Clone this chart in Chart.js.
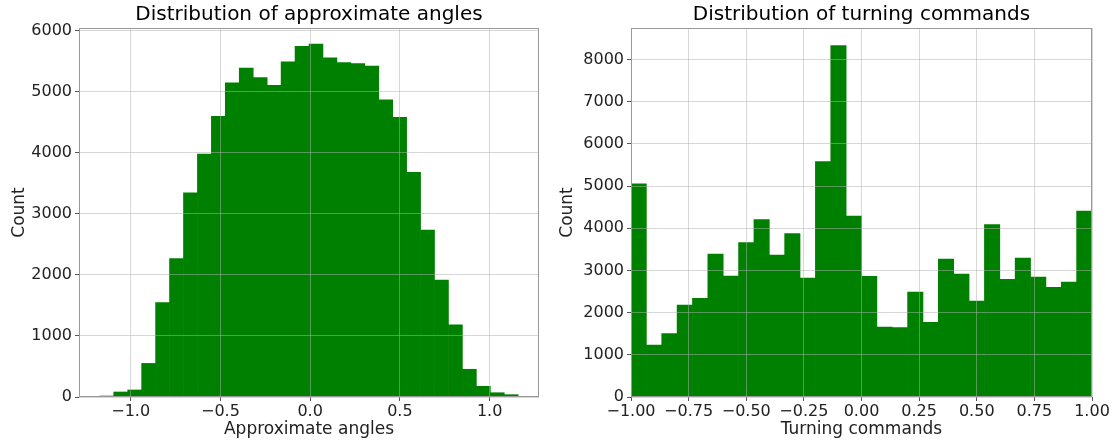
<!DOCTYPE html>
<html>
<head>
<meta charset="utf-8">
<script src="https://cdn.jsdelivr.net/npm/chart.js@4.4.0/dist/chart.umd.min.js"></script>
<style>
  html, body { margin: 0; padding: 0; background: #fff; }
  #wrap { position: relative; width: 1116px; height: 441px; }
  #angles { position: absolute; left: 0; top: 0; }
  #turning { position: absolute; left: 548px; top: 0; }
</style>
</head>
<body>
<div id="wrap">
  <canvas id="angles" width="548" height="441"></canvas>
  <canvas id="turning" width="568" height="441"></canvas>
</div>
<script>
// --- Histogram data ---
const angleBinStart = -1.172;
const angleBinWidth = 0.0777;
const angleCounts = [16, 82, 115, 550, 1546, 2267, 3344, 3978, 4595, 5142,
                     5383, 5230, 5103, 5487, 5738, 5775, 5552, 5475, 5459, 5415,
                     4863, 4579, 3677, 2732, 1913, 1180, 454, 175, 70, 38];
const angleTicksX = [-1.0, -0.5, 0.0, 0.5, 1.0];
const angleTicksY = [0, 1000, 2000, 3000, 4000, 5000, 6000];

const turnBinStart = -1.0;
const turnBinWidth = 2 / 30;
const turnCounts = [5055, 1233, 1502, 2182, 2340, 3391, 2870, 3660, 4205, 3368,
                    3874, 2822, 5583, 8331, 4291, 2862, 1660, 1644, 2490, 1771,
                    3273, 2917, 2277, 4087, 2790, 3296, 2846, 2601, 2727, 4411];
const turnTicksX = [-1.0, -0.75, -0.5, -0.25, 0.0, 0.25, 0.5, 0.75, 1.0];
const turnTicksY = [0, 1000, 2000, 3000, 4000, 5000, 6000, 7000, 8000];

const FONT = 'DejaVu Sans';
const TEXT = '#222';
const GRID = 'rgba(176, 176, 176, 0.5)';

// matplotlib-style minus sign
const fmt = (v, digits) => v.toFixed(digits).replace('-', '\u2212');

// box around the plot area (all four spines)
const frame = {
    id: 'frame',
    afterDraw(chart) {
        const { ctx, chartArea: a } = chart;
        ctx.save();
        ctx.strokeStyle = '#999';
        ctx.lineWidth = 1;
        ctx.strokeRect(Math.round(a.left) + 0.5, Math.round(a.top) + 0.5,
                       Math.round(a.width) - 1, Math.round(a.height) - 1);
        ctx.restore();
    }
};

function makeHist(id, cfg) {
    const points = cfg.counts.map((c, i) => ({
        x: cfg.binStart + (i + 0.5) * cfg.binWidth,
        y: c
    }));

    return new Chart(document.getElementById(id), {
        type: 'bar',
        data: {
            datasets: [{
                data: points,
                backgroundColor: '#008000',
                borderWidth: 0,
                barPercentage: 1.0,
                categoryPercentage: 1.0
            }]
        },
        plugins: [frame],
        options: {
            responsive: false,
            animation: false,
            layout: { padding: { left: 0, right: cfg.padRight, top: 0, bottom: 0 } },
            plugins: {
                legend: { display: false },
                tooltip: { enabled: false },
                title: {
                    display: true,
                    fullSize: false, // centre over the plot area, like matplotlib
                    text: cfg.title,
                    color: '#000',
                    font: { family: FONT, size: 20, weight: 'normal' },
                    padding: { top: 3, bottom: 1 }
                }
            },
            scales: {
                x: {
                    type: 'linear',
                    min: cfg.xMin,
                    max: cfg.xMax,
                    offset: false,
                    grid: { offset: false, color: GRID, z: 1, tickLength: 4, tickColor: '#555' },
                    border: { display: false },
                    afterBuildTicks: s => { s.ticks = cfg.xTicks.map(v => ({ value: v })); },
                    ticks: {
                        autoSkip: false,
                        maxRotation: 0,
                        padding: 1,
                        color: TEXT,
                        font: { family: FONT, size: 16 },
                        callback: v => fmt(v, cfg.xDigits)
                    },
                    title: {
                        display: true,
                        text: cfg.xLabel,
                        color: TEXT,
                        font: { family: FONT, size: 17 },
                        padding: { top: 0, bottom: 1 }
                    },
                    afterFit: s => { s.height = 44; }
                },
                y: {
                    min: 0,
                    max: cfg.yMax,
                    grid: { color: GRID, z: 1, tickLength: 4, tickColor: '#555' },
                    border: { display: false },
                    afterBuildTicks: s => { s.ticks = cfg.yTicks.map(v => ({ value: v })); },
                    ticks: {
                        padding: 3,
                        color: TEXT,
                        font: { family: FONT, size: 16 },
                        callback: v => String(v)
                    },
                    title: {
                        display: true,
                        text: 'Count',
                        color: TEXT,
                        font: { family: FONT, size: 17 },
                        padding: { top: 9, bottom: 0 }
                    },
                    afterFit: s => { s.width = cfg.yWidth; }
                }
            }
        }
    });
}

document.addEventListener('DOMContentLoaded', () => {
    makeHist('angles', {
        title: 'Distribution of approximate angles',
        xLabel: 'Approximate angles',
        binStart: angleBinStart,
        binWidth: angleBinWidth,
        counts: angleCounts,
        xTicks: angleTicksX,
        yTicks: angleTicksY,
        xMin: -1.288,
        xMax: 1.275,
        yMax: 6040,
        xDigits: 1,
        yWidth: 79,
        padRight: 9
    });

    makeHist('turning', {
        title: 'Distribution of turning commands',
        xLabel: 'Turning commands',
        binStart: turnBinStart,
        binWidth: turnBinWidth,
        counts: turnCounts,
        xTicks: turnTicksX,
        yTicks: turnTicksY,
        xMin: -1.0,
        xMax: 1.0,
        yMax: 8750,
        xDigits: 2,
        yWidth: 83,
        padRight: 24
    });
});
</script>
</body>
</html>
